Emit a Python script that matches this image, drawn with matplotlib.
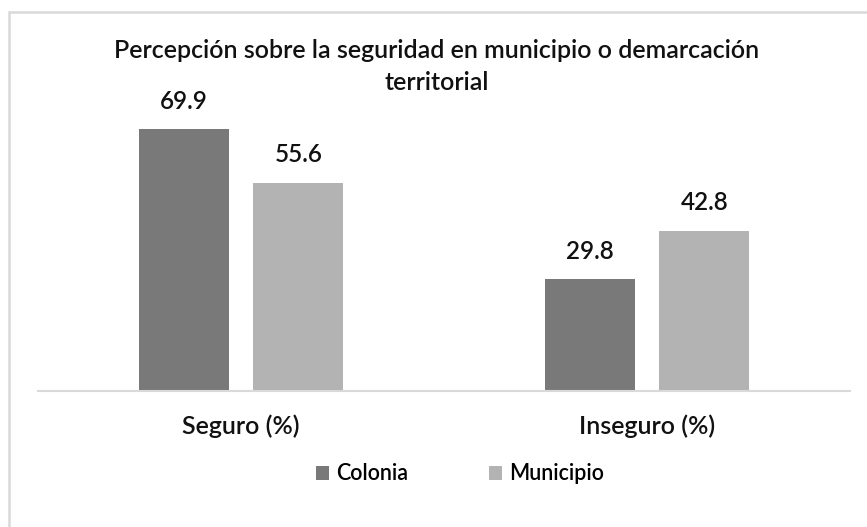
import matplotlib.pyplot as plt
import matplotlib.patches as mpatches
import numpy as np

plt.rcParams['font.family'] = ['Lato', 'DejaVu Sans']
plt.rcParams['font.weight'] = 'semibold'

# data
categorias = ['Seguro (%)', 'Inseguro (%)']
series = ['Colonia', 'Municipio']
colonia = [69.9, 29.8]
municipio = [55.6, 42.8]
colores = ['#797979', '#b3b3b3']
titulo = ['Percepción sobre la seguridad en municipio o demarcación', 'territorial']

W, H = 867, 527
fig = plt.figure(figsize=(W/100, H/100), dpi=100)

# outer chart frame (runs off the right and bottom edges)
fig.patches.append(mpatches.Rectangle((9/W, -0.05), 1.1, 1.05 - 12/H, transform=fig.transFigure,
                                      fill=False, edgecolor='#d9d9d9', linewidth=1.8))

ax = fig.add_axes([38/W, 1 - 391/H, (850-38)/W, 300/H])

x = np.arange(len(categorias))
ancho = 0.221
sep = 0.141
b1 = ax.bar(x - sep, colonia, ancho, color=colores[0], label=series[0])
b2 = ax.bar(x + sep, municipio, ancho, color=colores[1], label=series[1])

for barras in (b1, b2):
    for r in barras:
        ax.annotate('%.1f' % r.get_height(), (r.get_x() + r.get_width()/2, r.get_height()),
                    xytext=(0, 20), textcoords='offset points', ha='center', va='center',
                    fontsize=17.5, color='#111111')

ax.set_xlim(-0.5, 1.5)
ax.set_ylim(0, 80)
ax.set_xticks(x)
ax.set_xticklabels(categorias, fontsize=18, color='#111111')
ax.tick_params(axis='x', length=0, pad=17)
ax.set_yticks([])
for s in ['left', 'right', 'top']:
    ax.spines[s].set_visible(False)
ax.spines['bottom'].set_color('#d9d9d9')
ax.spines['bottom'].set_linewidth(1.5)

# title, one text per line
for i, linea in enumerate(titulo):
    fig.text(437/W, 1 - (50 + 32*i)/H, linea, ha='center', va='center', fontsize=18,
             color='#111111')

fig.legend(loc='center', bbox_to_anchor=(460/W, 1 - 474/H), ncol=2, frameon=False,
           fontsize=15.5, handlelength=0.6, handleheight=0.6, handletextpad=0.3,
           columnspacing=3.8)

plt.savefig('out.png', dpi=100)
